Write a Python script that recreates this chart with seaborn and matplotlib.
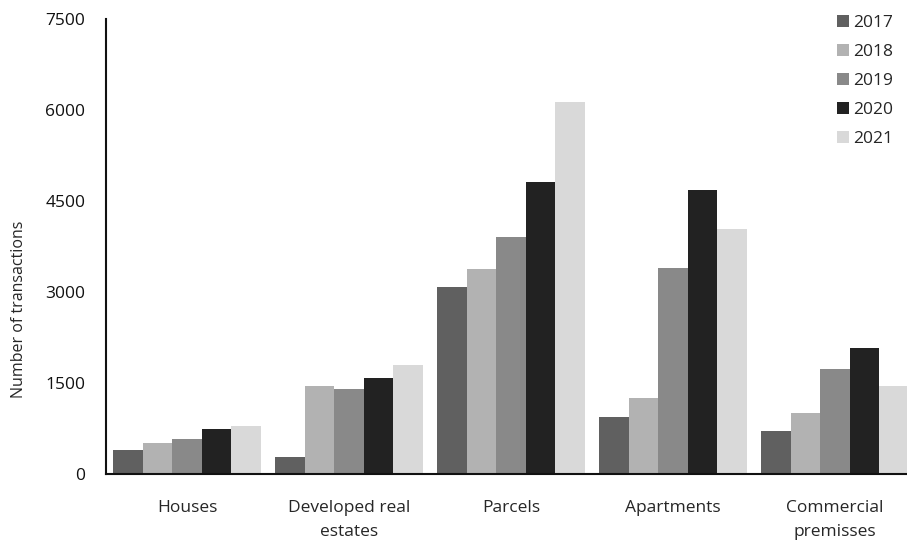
import pandas as pd
import matplotlib.pyplot as plt
import seaborn as sns

# data
categories = ['Houses', 'Developed real\nestates', 'Parcels', 'Apartments', 'Commercial\npremisses']
years = ['2017', '2018', '2019', '2020', '2021']
v2017 = [396, 285, 3077, 935, 709]
v2018 = [506, 1446, 3384, 1248, 1000]
v2019 = [577, 1401, 3902, 3391, 1736]
v2020 = [737, 1577, 4818, 4681, 2072]
v2021 = [796, 1802, 6132, 4038, 1446]
colors = ['#606060', '#b2b2b2', '#898989', '#222222', '#d9d9d9']

rows = []
for year, vals in zip(years, [v2017, v2018, v2019, v2020, v2021]):
    for cat, v in zip(categories, vals):
        rows.append({'category': cat, 'year': year, 'value': v})
df = pd.DataFrame(rows)

sns.set_style('white')
plt.rcParams['font.family'] = ['Open Sans', 'DejaVu Sans']
plt.rcParams['font.size'] = 12.5

fig = plt.figure(figsize=(9.07, 5.40), dpi=100)
ax = fig.add_axes([106/907, (540-474)/540, 810/907, (474-19)/540])

sns.barplot(data=df, x='category', y='value', hue='year', order=categories,
            hue_order=years, palette=colors, width=0.915, saturation=1,
            linewidth=0, ax=ax)

ax.set_ylim(0, 7500)
ax.set_xlim(-0.5, 4.5)
ax.set_yticks([0, 1500, 3000, 4500, 6000, 7500])
ax.set_xlabel('')
ax.set_ylabel('Number of transactions', fontsize=11.5)
ax.yaxis.set_label_coords(-0.097, 0.363)
ax.tick_params(axis='y', direction='in', length=5, width=1.2, pad=15, labelsize=12.5, colors='#111111')
ax.tick_params(axis='x', length=0, pad=19, labelsize=12.5)
for lbl in ax.get_xticklabels():
    lbl.set_linespacing(1.65)

sns.despine(ax=ax)
ax.spines['left'].set_linewidth(1.5)
ax.spines['bottom'].set_linewidth(1.5)
ax.spines['left'].set_color('#111111')
ax.spines['bottom'].set_color('#111111')

leg = ax.legend(title=None, frameon=False, loc='upper left',
                bbox_to_anchor=(822/907, 1.0), bbox_transform=fig.transFigure,
                handlelength=0.7, handleheight=0.7, handletextpad=0.22,
                labelspacing=0.74, fontsize=12.5, borderaxespad=0.45)

fig.savefig('out.png', dpi=100)
